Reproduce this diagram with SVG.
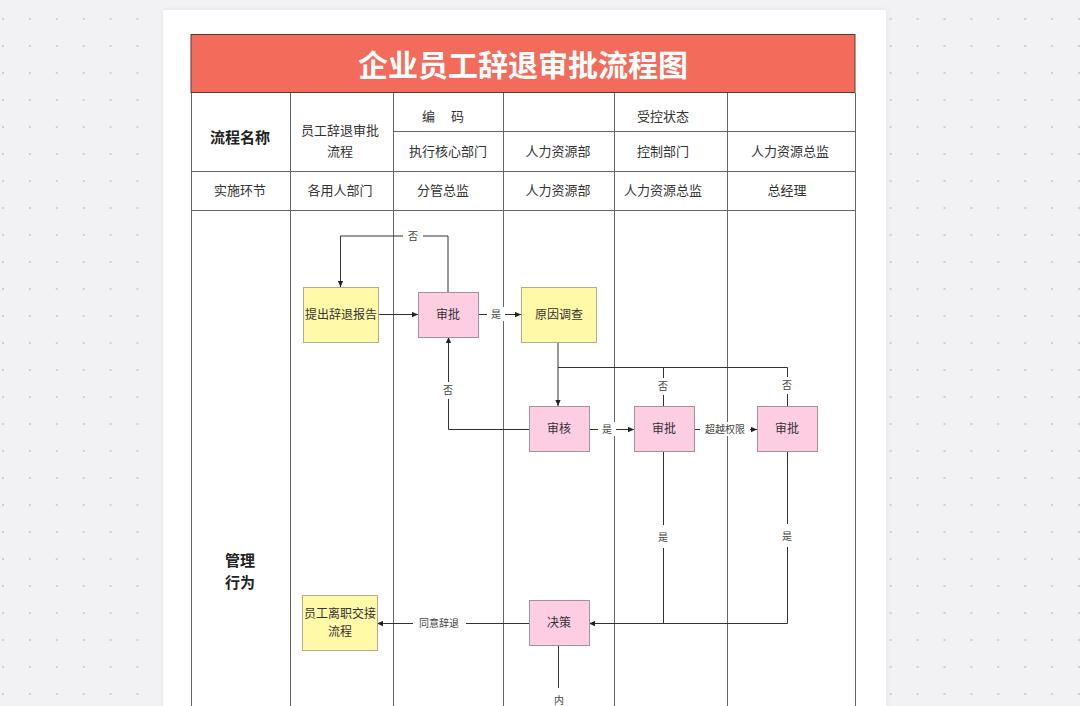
<svg xmlns="http://www.w3.org/2000/svg" width="1080" height="706" viewBox="0 0 1080 706">
<defs>
<pattern id="dots" x="2" y="18" width="26.9" height="27" patternUnits="userSpaceOnUse">
<rect x="0" y="0" width="2" height="2" fill="#cfcfd3"/>
</pattern>
<marker id="arr" viewBox="0 0 8 8" refX="8" refY="4" markerWidth="6" markerHeight="6" orient="auto" markerUnits="userSpaceOnUse">
<path d="M0,0.5 L8,4 L0,7.5 z" fill="#222"/>
</marker>
<filter id="sh" x="-5%" y="-5%" width="110%" height="110%">
<feDropShadow dx="0" dy="0" stdDeviation="2" flood-color="#000" flood-opacity="0.08"/>
</filter>
</defs>
<style>
text{font-family:"Noto Sans CJK SC","Noto Sans",sans-serif;fill:#333}
.cell{font-size:13px;text-anchor:middle}
.bold{font-size:15px;font-weight:bold;text-anchor:middle;fill:#222}
.grid{stroke:#666;stroke-width:1;fill:none}
.yel{fill:#fff9a8;stroke:#b0ad88;stroke-width:1}
.pink{fill:#fdcde2;stroke:#a8909c;stroke-width:1}
.nt{font-size:12px;text-anchor:middle;fill:#333}
.conn{stroke:#333;stroke-width:1;fill:none}
.lbl{font-size:10px;text-anchor:middle;fill:#444}
.lb{fill:#fff}
</style>
<rect width="1080" height="706" fill="#f2f2f4"/>
<rect width="1080" height="706" fill="url(#dots)"/>
<rect x="163" y="10" width="723" height="710" fill="#fff" filter="url(#sh)"/>

<g id="title">
<rect x="191" y="34.5" width="664" height="58" fill="#f26b5b" stroke="#5a3a36" stroke-width="1"/>
<text x="523" y="76" font-size="30" font-weight="bold" text-anchor="middle" style="fill:#fff">企业员工辞退审批流程图</text>
</g>

<g id="table">
<path class="grid" d="M191.5,93 V720 M290.5,93 V720 M393.5,93 V720 M503.5,93 V720 M614.5,93 V720 M727.5,93 V720 M855.5,93 V720 M393,131.5 H855 M191,171.5 H855 M191,210.5 H855"/>
<text class="bold" x="240" y="143">流程名称</text>
<text class="cell" x="340" y="135">员工辞退审批</text>
<text class="cell" x="340" y="156">流程</text>
<text class="cell" x="443" y="121">编　 码</text>
<text class="cell" x="663" y="121">受控状态</text>
<text class="cell" x="448" y="156">执行核心部门</text>
<text class="cell" x="558" y="156">人力资源部</text>
<text class="cell" x="663" y="156">控制部门</text>
<text class="cell" x="790" y="156">人力资源总监</text>
<text class="cell" x="240" y="195">实施环节</text>
<text class="cell" x="340" y="195">各用人部门</text>
<text class="cell" x="443" y="195">分管总监</text>
<text class="cell" x="558" y="195">人力资源部</text>
<text class="cell" x="663" y="195">人力资源总监</text>
<text class="cell" x="787" y="195">总经理</text>
<text class="bold" x="240" y="566">管理</text>
<text class="bold" x="240" y="588">行为</text>
</g>

<g id="connectors">
<path class="conn" d="M448,292 V236 H340.5 V287" marker-end="url(#arr)"/>
<rect class="lb" x="403" y="229" width="20" height="14"/>
<text class="lbl" x="413" y="240">否</text>
<path class="conn" d="M378,314.5 H418" marker-end="url(#arr)"/>
<path class="conn" d="M478,314.5 H521" marker-end="url(#arr)"/>
<rect class="lb" x="487" y="307" width="18" height="14"/>
<text class="lbl" x="496" y="318">是</text>
<path class="conn" d="M558,342 V406" marker-end="url(#arr)"/>
<path class="conn" d="M663.5,406 V367.5 H558 M787.5,406 V367.5 H663"/>
<rect class="lb" x="655" y="378" width="18" height="17"/>
<text class="lbl" x="663" y="390">否</text>
<rect class="lb" x="779" y="377" width="18" height="17"/>
<text class="lbl" x="787" y="389">否</text>
<path class="conn" d="M529,429.5 H448.5 V337" marker-end="url(#arr)"/>
<rect class="lb" x="440" y="382" width="18" height="17"/>
<text class="lbl" x="448" y="394">否</text>
<path class="conn" d="M589,429.5 H634" marker-end="url(#arr)"/>
<rect class="lb" x="598" y="422" width="18" height="14"/>
<text class="lbl" x="607" y="433">是</text>
<path class="conn" d="M694,429.5 H757" marker-end="url(#arr)"/>
<rect class="lb" x="700" y="422" width="50" height="14"/>
<text class="lbl" x="725" y="433">超越权限</text>
<path class="conn" d="M663.5,451 V623.5 H589" marker-end="url(#arr)"/>
<path class="conn" d="M787.5,451 V623.5 H663"/>
<rect class="lb" x="655" y="525" width="18" height="23"/>
<text class="lbl" x="663" y="541">是</text>
<rect class="lb" x="779" y="524" width="18" height="23"/>
<text class="lbl" x="787" y="540">是</text>
<path class="conn" d="M529,623.5 H377" marker-end="url(#arr)"/>
<rect class="lb" x="413" y="615" width="53" height="16"/>
<text class="lbl" x="439" y="627">同意辞退</text>
<path class="conn" d="M558.5,645 V720"/>
<rect class="lb" x="549" y="688" width="18" height="22"/>
<text class="lbl" x="559" y="704">内</text>
</g>

<g id="n1"><rect class="yel" x="303.5" y="287.5" width="75" height="55"/><text class="nt" x="341" y="319">提出辞退报告</text></g>
<g id="n2"><rect class="pink" x="418.5" y="292.5" width="60" height="45"/><text class="nt" x="448" y="319">审批</text></g>
<g id="n3"><rect class="yel" x="521.5" y="287.5" width="75" height="55"/><text class="nt" x="559" y="319">原因调查</text></g>
<g id="n4"><rect class="pink" x="529.5" y="406.5" width="60" height="45"/><text class="nt" x="559" y="433">审核</text></g>
<g id="n5"><rect class="pink" x="634.5" y="406.5" width="60" height="45"/><text class="nt" x="664" y="433">审批</text></g>
<g id="n6"><rect class="pink" x="757.5" y="406.5" width="60" height="45"/><text class="nt" x="787" y="433">审批</text></g>
<g id="n7"><rect class="yel" x="302.5" y="595.5" width="75" height="55"/><text class="nt" x="340" y="618">员工离职交接</text><text class="nt" x="340" y="636">流程</text></g>
<g id="n8"><rect class="pink" x="529.5" y="600.5" width="60" height="45"/><text class="nt" x="559" y="627">决策</text></g>
</svg>
